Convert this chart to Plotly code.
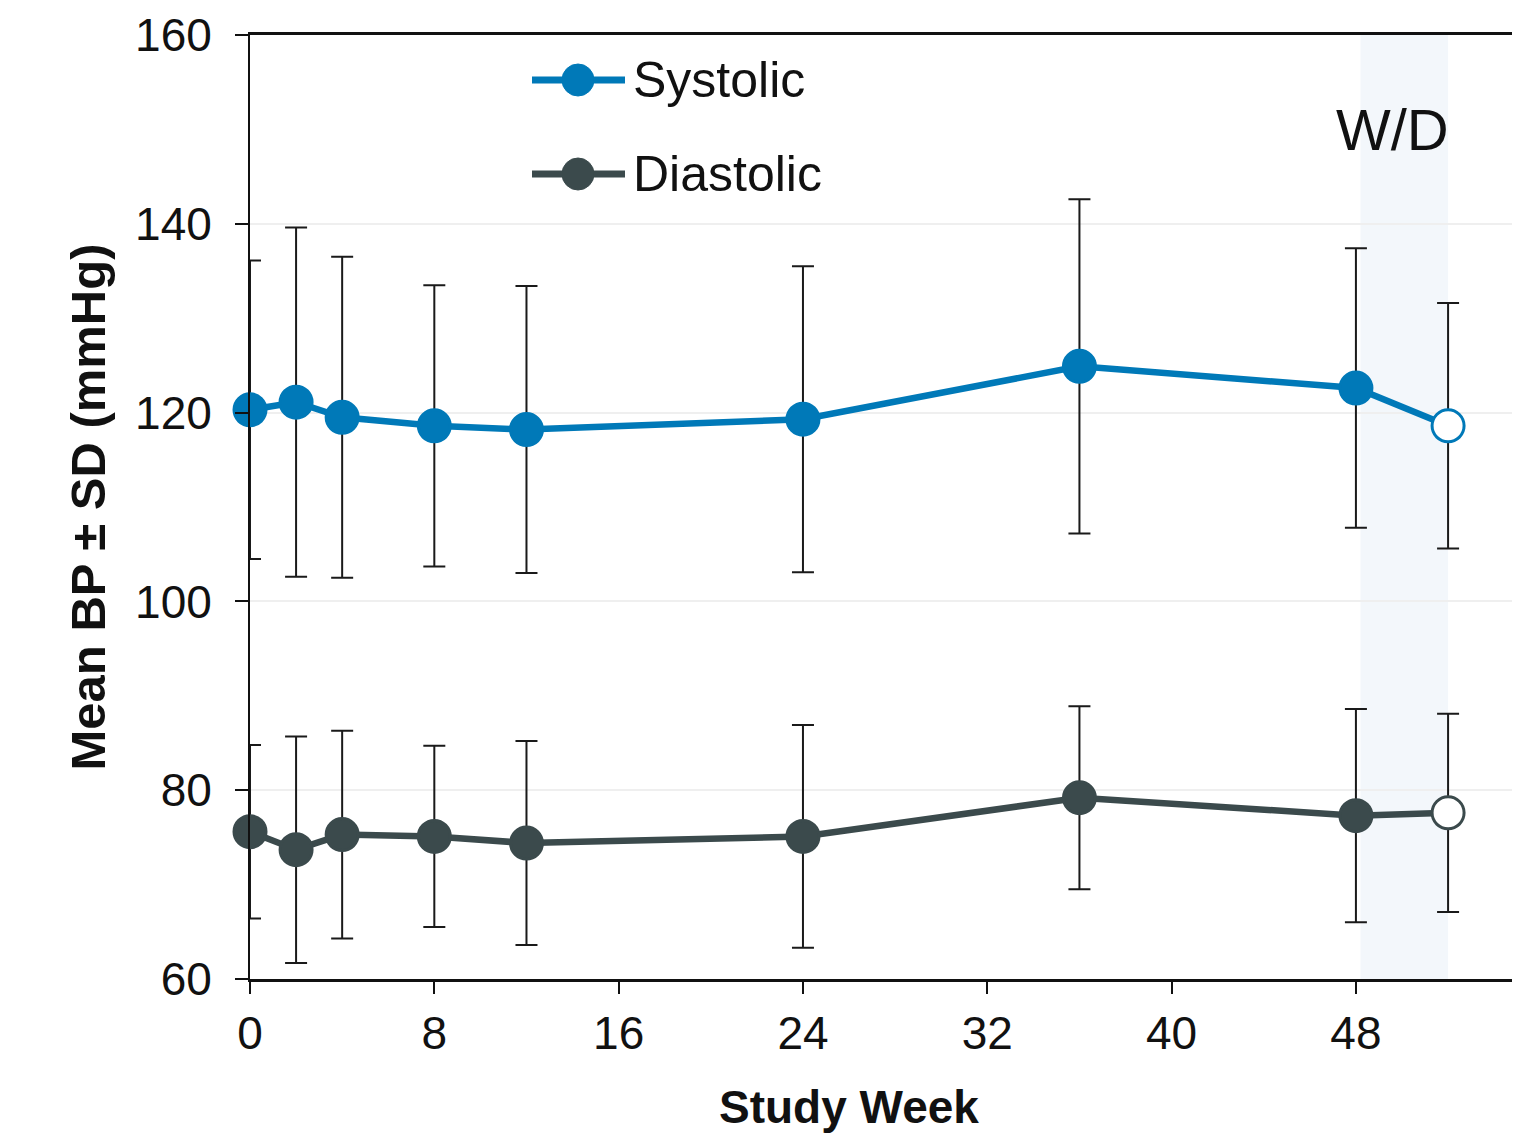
import plotly.graph_objects as go

# ---- data ----
weeks = [0, 2, 4, 8, 12, 24, 36, 48, 52]
systolic_mean = [120.3, 121.1, 119.5, 118.6, 118.2, 119.3, 124.9, 122.6, 118.6]
systolic_sd = [15.8, 18.5, 17.0, 14.9, 15.2, 16.2, 17.7, 14.8, 13.0]
diastolic_mean = [75.6, 73.7, 75.3, 75.1, 74.4, 75.1, 79.2, 77.3, 77.6]
diastolic_sd = [9.2, 12.0, 11.0, 9.6, 10.8, 11.8, 9.7, 11.3, 10.5]
withdrawn = [False, False, False, False, False, False, False, False, True]
x_ticks = [0, 8, 16, 24, 32, 40, 48, 56]
y_ticks = [60, 80, 100, 120, 140, 160]
wd_start, wd_end = 48.2, 52
series_names = ["Systolic", "Diastolic"]

SYS_C = "#0079b8"
DIA_C = "#3b4a4c"
FONT = "Liberation Sans, Arial, sans-serif"

# page has an 8px body margin; figure sized so that it reaches the window edge
OFF = 8
W, H = 1520 - OFF, 1143 - OFF
PL, PT, PB, PR = 250, 35, 979, 1520          # plot area in screen px
ML, MT, MB, MR = PL - OFF, PT - OFF, H - (PB - OFF), 0
PX_PER_WEEK = 23.04
X_MAX = (PR - PL) / PX_PER_WEEK

def px_x(px):
    return (px - PL) / (PR - PL)

def px_y(py):
    return (PB - py) / (PB - PT)

fig = go.Figure()

for name, mean, sd, col in [
    (series_names[0], systolic_mean, systolic_sd, SYS_C),
    (series_names[1], diastolic_mean, diastolic_sd, DIA_C),
]:
    fig.add_trace(go.Scatter(
        x=weeks, y=mean, name=name, mode="lines+markers",
        line=dict(color=col, width=6.5),
        marker=dict(size=32,
                    color=["white" if w else col for w in withdrawn],
                    line=dict(color=col, width=3)),
        error_y=dict(type="data", array=sd, visible=True,
                     color="#1a1a1a", thickness=2, width=11),
        cliponaxis=False,
        showlegend=False,
    ))

# withdrawal band
fig.add_shape(type="rect", xref="x", yref="paper", x0=wd_start, x1=wd_end,
              y0=0, y1=1, fillcolor="#f3f7fb", line_width=0, layer="below")

annotations = [
    dict(text="W/D", x=49.6, y=150, xref="x", yref="y", showarrow=False,
         xanchor="center", yanchor="middle",
         font=dict(size=58, family=FONT, color="#111")),
    dict(text="Study Week", x=px_x(849), y=px_y(1107),
         xref="paper", yref="paper", showarrow=False,
         xanchor="center", yanchor="middle",
         font=dict(size=46, family=FONT, color="#111", weight="bold")),
    dict(text="56", x=56 / X_MAX, y=px_y(1032),
         xref="paper", yref="paper", showarrow=False,
         xanchor="center", yanchor="middle",
         font=dict(size=46, family=FONT, color="#111")),
]

# manual legend
for name, col, py in [(series_names[0], SYS_C, 80), (series_names[1], DIA_C, 174)]:
    fig.add_shape(type="line", xref="paper", yref="paper",
                  x0=px_x(532), x1=px_x(625), y0=px_y(py), y1=px_y(py),
                  line=dict(color=col, width=7))
    fig.add_shape(type="circle", xref="paper", yref="paper",
                  xsizemode="pixel", ysizemode="pixel",
                  xanchor=px_x(578), yanchor=px_y(py),
                  x0=-16, x1=16, y0=-16, y1=16,
                  fillcolor=col, line=dict(color=col, width=1))
    annotations.append(dict(text=name, x=px_x(631), y=px_y(py), xref="paper", yref="paper",
                            xanchor="left", yanchor="middle", showarrow=False,
                            font=dict(size=50, family=FONT, color="#111")))

fig.update_layout(
    width=W, height=H,
    margin=dict(l=ML, r=MR, t=MT, b=MB, autoexpand=False),
    paper_bgcolor="white", plot_bgcolor="white",
    font=dict(family=FONT, color="#111"),
    annotations=annotations,
    showlegend=False,
)

fig.update_xaxes(
    range=[0, X_MAX], tickvals=x_ticks, ticks="outside", ticklen=12, tickwidth=2,
    tickcolor="#111", showline=True, linecolor="#111", linewidth=2.5, mirror=True,
    showgrid=False, zeroline=False, tickfont=dict(size=46, family=FONT, color="#111"),
)
fig.update_yaxes(
    range=[60, 160], tickvals=y_ticks, ticks="outside", ticklen=13, tickwidth=2,
    tickcolor="#111", showline=True, linecolor="#111", linewidth=2,
    showgrid=True, gridcolor="#efefef", gridwidth=2, zeroline=False,
    ticklabelstandoff=14,
    tickfont=dict(size=46, family=FONT, color="#111"),
    title=dict(text="Mean BP ± SD (mmHg)", standoff=14,
               font=dict(size=49, family=FONT, color="#111", weight="bold")),
)

fig.write_html("out.html")
